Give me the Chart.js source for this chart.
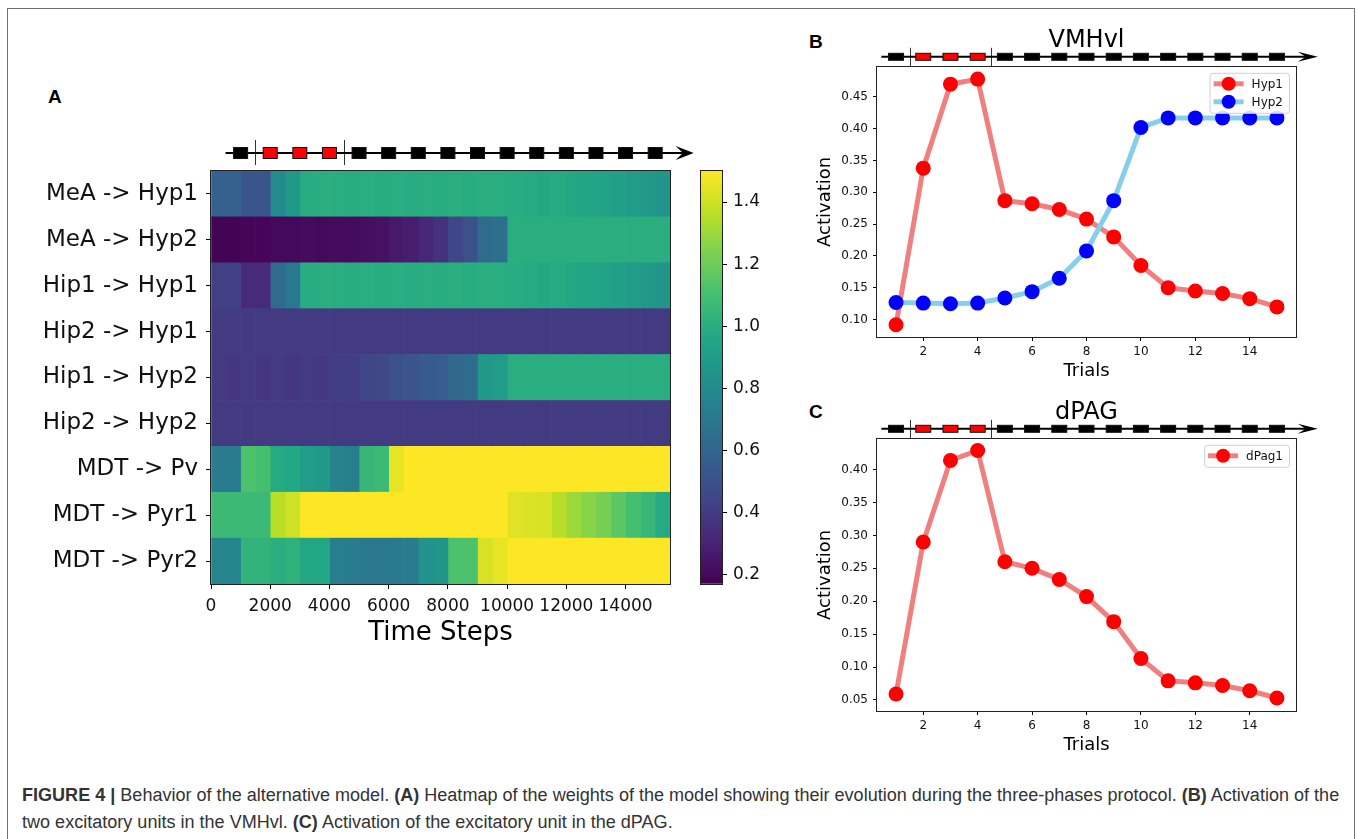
<!DOCTYPE html>
<html>
<head>
<meta charset="utf-8">
<script src="https://cdn.jsdelivr.net/npm/chart.js@4.4.0/dist/chart.umd.min.js"></script>
<style>
  body { margin: 0; background: #fff; width: 1358px; height: 839px; overflow: hidden; position: relative; }
  .frame { position: absolute; left: 7px; top: 8px; width: 1346px; height: 840px; border: 1.5px solid #707070; border-bottom: none; }
  canvas { position: absolute; }
  .panel { position: absolute; font: bold 19px 'Liberation Sans', Arial, sans-serif; line-height: 20px; color: #000; }
  #caption { position: absolute; left: 22px; top: 782px; font-family: 'Liberation Sans', Arial, sans-serif; font-size: 16px; color: #333; line-height: 27px; white-space: nowrap; }
</style>
</head>
<body>
<div class="frame"></div>
<div class="panel" style="left:48px;top:87px">A</div>
<div class="panel" style="left:809px;top:32px">B</div>
<div class="panel" style="left:809px;top:402px">C</div>

<canvas id="heatmap" width="700" height="560" style="left:0;top:100px"></canvas>
<canvas id="colorbar" width="90" height="450" style="left:690px;top:150px"></canvas>
<canvas id="vmh" width="540" height="370" style="left:800px;top:20px"></canvas>
<canvas id="dpag" width="540" height="372" style="left:800px;top:392px"></canvas>

<div id="caption"><span id="line1"><b>FIGURE 4 |</b> Behavior of the alternative model. <b>(A)</b> Heatmap of the weights of the model showing their evolution during the three-phases protocol. <b>(B)</b> Activation of the</span><br>two excitatory units in the VMHvl. <b>(C)</b> Activation of the excitatory unit in the dPAG.</div>

<script>
// --- heatmap (A) ---
var rowNames = ['MeA -> Hyp1', 'MeA -> Hyp2', 'Hip1 -> Hyp1', 'Hip2 -> Hyp1', 'Hip1 -> Hyp2',
                'Hip2 -> Hyp2', 'MDT -> Pv', 'MDT -> Pyr1', 'MDT -> Pyr2'];
var timeBins = [0,500,1000,1500,2000,2500,3000,3500,4000,4500,5000,5500,6000,6500,7000,7500,
                8000,8500,9000,9500,10000,10500,11000,11500,12000,12500,13000,13500,14000,14500,15000];
var timeMax = 15500;
var timeTicks = [0,2000,4000,6000,8000,10000,12000,14000];

var meaHyp1  = [0.58,0.58,0.52,0.52,0.8,0.88,0.99,1.0,1.0,0.99,1.0,0.99,1.0,0.99,1.0,0.99,
                1.0,0.99,1.0,1.0,0.99,0.98,0.97,0.98,0.96,0.95,0.94,0.92,0.9,0.88,0.85];
var meaHyp2  = [0.18,0.18,0.19,0.19,0.2,0.2,0.21,0.2,0.21,0.21,0.22,0.23,0.26,0.28,0.32,0.36,
                0.45,0.5,0.63,0.66,1.0,1.0,1.0,1.0,1.0,1.0,1.0,1.0,1.0,1.0,1.0];
var hip1Hyp1 = [0.42,0.42,0.33,0.33,0.63,0.7,0.99,1.0,1.0,0.99,1.0,0.99,1.0,0.99,1.0,0.99,
                1.0,0.99,1.0,1.0,0.99,0.98,0.97,0.98,0.96,0.95,0.94,0.92,0.9,0.88,0.86];
var hip2Hyp1 = [0.4,0.4,0.4,0.4,0.4,0.4,0.4,0.4,0.4,0.4,0.4,0.4,0.4,0.4,0.4,0.4,
                0.4,0.4,0.4,0.4,0.4,0.4,0.4,0.4,0.4,0.4,0.4,0.4,0.4,0.4,0.4];
var hip1Hyp2 = [0.4,0.38,0.4,0.38,0.4,0.38,0.4,0.39,0.41,0.41,0.45,0.46,0.5,0.52,0.55,0.56,
                0.62,0.64,0.88,0.9,1.0,1.0,1.0,1.0,1.0,1.0,1.0,1.0,1.0,1.0,1.0];
var hip2Hyp2 = [0.4,0.4,0.4,0.4,0.4,0.4,0.4,0.4,0.4,0.4,0.4,0.4,0.4,0.4,0.4,0.4,
                0.4,0.4,0.4,0.4,0.4,0.4,0.4,0.4,0.4,0.4,0.4,0.4,0.4,0.4,0.4];
var mdtPv    = [0.72,0.72,1.12,1.1,0.98,0.97,0.9,0.88,0.76,0.74,1.05,1.07,1.45,1.5,1.5,1.5,
                1.5,1.5,1.5,1.5,1.5,1.5,1.5,1.5,1.5,1.5,1.5,1.5,1.5,1.5,1.5];
var mdtPyr1  = [1.07,1.07,1.07,1.07,1.36,1.4,1.5,1.5,1.5,1.5,1.5,1.5,1.5,1.5,1.5,1.5,
                1.5,1.5,1.5,1.5,1.44,1.43,1.42,1.36,1.3,1.26,1.22,1.16,1.1,1.05,0.98];
var mdtPyr2  = [0.77,0.77,1.03,1.03,1.0,1.02,0.96,0.96,0.74,0.72,0.7,0.7,0.71,0.72,0.84,0.86,
                1.12,1.12,1.42,1.45,1.5,1.5,1.5,1.5,1.5,1.5,1.5,1.5,1.5,1.5,1.5];

var colorMin = 0.17, colorMax = 1.50;
var colorbarTicks = [0.2,0.4,0.6,0.8,1.0,1.2,1.4];

// --- protocol strip (trials, fear phase in red) ---
var trials = [1,2,3,4,5,6,7,8,9,10,11,12,13,14,15];
var trialColors = ['#000','#f00','#f00','#f00','#000','#000','#000','#000',
                   '#000','#000','#000','#000','#000','#000','#000'];
var phaseBounds = [1.5, 4.5];
var stepsPerTrial = 1000;

// --- activation (B, C) ---
var trialTicks = [2,4,6,8,10,12,14];
var hyp1  = [0.092,0.338,0.470,0.478,0.287,0.282,0.273,0.258,0.230,0.185,0.150,0.145,0.141,0.133,0.120];
var hyp2  = [0.127,0.126,0.125,0.126,0.134,0.144,0.165,0.208,0.287,0.402,0.417,0.417,0.417,0.417,0.417];
var dpag1 = [0.059,0.290,0.414,0.429,0.260,0.250,0.233,0.207,0.169,0.113,0.079,0.076,0.072,0.064,0.053];
var activationTicksB = [0.10,0.15,0.20,0.25,0.30,0.35,0.40,0.45];
var activationTicksC = [0.05,0.10,0.15,0.20,0.25,0.30,0.35,0.40];

Chart.defaults.font.family = "'DejaVu Sans'";
Chart.defaults.color = '#111';

var viridisStops = ['#440154','#482475','#414487','#355f8d','#2a788e','#21918c',
                    '#22a884','#44bf70','#7ad151','#bddf26','#fde725'];

function hexRgb(h) {
  return [parseInt(h.substr(1,2),16), parseInt(h.substr(3,2),16), parseInt(h.substr(5,2),16)];
}

function viridis(v) {
  var t = Math.min(1, Math.max(0, (v - colorMin) / (colorMax - colorMin)));
  var p = t * (viridisStops.length - 1);
  var i = Math.min(Math.floor(p), viridisStops.length - 2);
  var f = p - i;
  var a = hexRgb(viridisStops[i]), b = hexRgb(viridisStops[i + 1]);
  return 'rgb(' + [0,1,2].map(function(k) { return Math.round(a[k] + (b[k] - a[k]) * f); }).join(',') + ')';
}

function fixedTicks(arr) {
  return function(s) { s.ticks = arr.map(function(v) { return {value: v}; }); };
}

// trial squares above the axes, placed through the x scale
var protocolPlugin = {
  id: 'protocol',
  afterDraw: function(chart, args, o) {
    if (!o.unit) return;
    var ctx = chart.ctx, xs = chart.scales.x;
    var px = function(t) { return xs.getPixelForValue(t * o.unit); };
    var y = chart.chartArea.top + o.offset;
    ctx.save();
    ctx.strokeStyle = '#333';
    ctx.lineWidth = 1;
    phaseBounds.forEach(function(b) {
      var x = Math.round(px(b)) + 0.5;
      ctx.beginPath(); ctx.moveTo(x, y - o.sepUp); ctx.lineTo(x, y + o.sepDown); ctx.stroke();
    });
    var tip = px(o.end);
    ctx.strokeStyle = '#000';
    ctx.lineWidth = 2;
    ctx.beginPath(); ctx.moveTo(px(o.start), y); ctx.lineTo(tip - o.headLen * 0.6, y); ctx.stroke();
    ctx.fillStyle = '#000';
    ctx.beginPath();
    ctx.moveTo(tip, y);
    ctx.lineTo(tip - o.headLen, y - o.headHalf);
    ctx.lineTo(tip - o.headLen * 0.6, y);
    ctx.lineTo(tip - o.headLen, y + o.headHalf);
    ctx.closePath();
    ctx.fill();
    trials.forEach(function(t, i) {
      var x = px(t);
      ctx.fillStyle = trialColors[i];
      ctx.fillRect(x - o.w / 2, y - o.h / 2, o.w, o.h);
      ctx.lineWidth = 1;
      ctx.strokeStyle = '#111';
      ctx.strokeRect(x - o.w / 2, y - o.h / 2, o.w, o.h);
    });
    ctx.restore();
  }
};

// matplotlib-like spines
var framePlugin = {
  id: 'frame',
  afterDatasetsDraw: function(chart) {
    var a = chart.chartArea, ctx = chart.ctx;
    ctx.save();
    ctx.strokeStyle = '#222';
    ctx.lineWidth = 1;
    ctx.strokeRect(Math.round(a.left) - 0.5, Math.round(a.top) - 0.5,
                   Math.round(a.width) + 1, Math.round(a.height) + 1);
    ctx.restore();
  }
};

// boxed legend inside the top right corner
var boxLegendPlugin = {
  id: 'boxLegend',
  afterDatasetsDraw: function(chart, args, o) {
    if (!o.show) return;
    var ctx = chart.ctx, a = chart.chartArea;
    var sets = chart.data.datasets;
    ctx.save();
    ctx.font = "12px 'DejaVu Sans'";
    var tw = Math.max.apply(null, sets.map(function(d) { return ctx.measureText(d.label).width; }));
    var w = 42 + tw + 6, h = sets.length * 18 + 4;
    var left = a.right - 7 - w, top = a.top + 6;
    ctx.beginPath();
    ctx.roundRect(left + 0.5, top + 0.5, w, h, 3);
    ctx.fillStyle = 'rgba(255,255,255,0.85)';
    ctx.fill();
    ctx.strokeStyle = '#d0d0d0';
    ctx.lineWidth = 1;
    ctx.stroke();
    sets.forEach(function(d, i) {
      var cy = top + 11 + i * 18;
      ctx.strokeStyle = d.borderColor;
      ctx.lineWidth = d.borderWidth;
      ctx.beginPath(); ctx.moveTo(left + 4, cy); ctx.lineTo(left + 34, cy); ctx.stroke();
      ctx.fillStyle = d.pointBackgroundColor;
      ctx.beginPath(); ctx.arc(left + 19, cy, 7, 0, Math.PI * 2); ctx.fill();
      ctx.fillStyle = '#111';
      ctx.textBaseline = 'middle';
      ctx.fillText(d.label, left + 42, cy + 1);
    });
    ctx.restore();
  }
};

// heatmap built from one floating bar per time bin and row
var weightRows = [meaHyp1, meaHyp2, hip1Hyp1, hip2Hyp1, hip1Hyp2, hip2Hyp2, mdtPv, mdtPyr1, mdtPyr2];
var heatDatasets = timeBins.map(function(start, i) {
  var end = i < timeBins.length - 1 ? timeBins[i + 1] : timeMax;
  return {
    data: rowNames.map(function() { return [start, end]; }),
    backgroundColor: weightRows.map(function(r) { return viridis(r[i]); }),
    borderWidth: 0,
    grouped: false,
    barPercentage: 1,
    categoryPercentage: 1
  };
});

new Chart(document.getElementById('heatmap'), {
  type: 'bar',
  data: { labels: rowNames, datasets: heatDatasets },
  options: {
    indexAxis: 'y',
    responsive: false,
    animation: false,
    layout: { padding: { top: 71, right: 30, left: 0, bottom: 0 } },
    plugins: {
      legend: { display: false },
      tooltip: { enabled: false },
      protocol: { unit: stepsPerTrial, offset: -18, start: 0.49, end: 16.3, w: 14, h: 11,
                  headLen: 18, headHalf: 7, sepUp: 13, sepDown: 12 }
    },
    scales: {
      x: {
        type: 'linear', min: 0, max: timeMax,
        afterBuildTicks: fixedTicks(timeTicks),
        afterFit: function(s) { s.height = 76; },
        grid: { drawOnChartArea: false, tickLength: 5, tickColor: '#000' },
        border: { display: false },
        ticks: { font: { size: 17 }, padding: 7, maxRotation: 0, autoSkip: false,
                 callback: function(v) { return String(v); } },
        title: { display: true, text: 'Time Steps', font: { size: 26 }, color: '#000',
                 padding: { top: 0, bottom: 11 } }
      },
      y: {
        afterFit: function(s) { s.width = 211; },
        grid: { drawOnChartArea: false, offset: false, tickLength: 5, tickColor: '#000' },
        border: { display: false },
        ticks: { font: { size: 23 }, padding: 8, autoSkip: false }
      }
    }
  },
  plugins: [protocolPlugin, framePlugin]
});

// colorbar
new Chart(document.getElementById('colorbar'), {
  type: 'bar',
  data: {
    labels: ['weight'],
    datasets: [{
      data: [[colorMin, colorMax]],
      backgroundColor: function(c) {
        var a = c.chart.chartArea;
        if (!a) return '#21918c';
        var g = c.chart.ctx.createLinearGradient(0, a.bottom, 0, a.top);
        viridisStops.forEach(function(s, i) { g.addColorStop(i / (viridisStops.length - 1), s); });
        return g;
      },
      borderWidth: 0,
      barPercentage: 1,
      categoryPercentage: 1
    }]
  },
  options: {
    responsive: false,
    animation: false,
    layout: { padding: { left: 11, top: 21, bottom: 14, right: 0 } },
    plugins: { legend: { display: false }, tooltip: { enabled: false } },
    scales: {
      x: { display: false },
      y: {
        position: 'right', min: colorMin, max: colorMax,
        afterBuildTicks: fixedTicks(colorbarTicks),
        afterFit: function(s) { s.width = 58; },
        grid: { drawOnChartArea: false, tickLength: 5, tickColor: '#000' },
        border: { display: false },
        ticks: { font: { size: 17 }, padding: 6, callback: function(v) { return v.toFixed(1); } }
      }
    }
  },
  plugins: [framePlugin]
});

function series(label, values, lineColor, dotColor, order) {
  return {
    label: label,
    data: values.map(function(v, i) { return { x: trials[i], y: v }; }),
    borderColor: lineColor,
    borderWidth: 5,
    pointRadius: 7.5,
    pointBackgroundColor: dotColor,
    pointBorderColor: dotColor,
    pointBorderWidth: 0,
    tension: 0,
    order: order
  };
}

function activationChart(id, title, datasets, yMin, yMax, yTicks) {
  return new Chart(document.getElementById(id), {
    type: 'line',
    data: { datasets: datasets },
    options: {
      responsive: false,
      animation: false,
      layout: { padding: { top: 0, right: 44, left: 0, bottom: 0 } },
      plugins: {
        legend: { display: false },
        tooltip: { enabled: false },
        title: { display: true, text: title, fullSize: false, color: '#000',
                 font: { size: 24, weight: 'normal' }, padding: { top: 6, bottom: 12 } },
        protocol: { unit: 1, offset: -10, start: 0.46, end: 16.5, w: 15, h: 7,
                    headLen: 20, headHalf: 5, sepUp: 9, sepDown: 10 },
        boxLegend: { show: true }
      },
      scales: {
        x: {
          type: 'linear', min: 0.3, max: 15.7,
          afterBuildTicks: fixedTicks(trialTicks),
          afterFit: function(s) { s.height = 53; },
          grid: { drawOnChartArea: false, tickLength: 4, tickColor: '#000' },
          border: { display: false },
          ticks: { font: { size: 12 }, padding: 4, maxRotation: 0, autoSkip: false },
          title: { display: true, text: 'Trials', font: { size: 18 }, color: '#000',
                   padding: { top: 0, bottom: 8 } }
        },
        y: {
          min: yMin, max: yMax,
          afterBuildTicks: fixedTicks(yTicks),
          afterFit: function(s) { s.width = 77; },
          grid: { drawOnChartArea: false, tickLength: 4, tickColor: '#000' },
          border: { display: false },
          ticks: { font: { size: 12 }, padding: 5, callback: function(v) { return v.toFixed(2); } },
          title: { display: true, text: 'Activation', font: { size: 18 }, color: '#000',
                   padding: { top: 15, bottom: 0 } }
        }
      }
    },
    plugins: [protocolPlugin, framePlugin, boxLegendPlugin]
  });
}

activationChart('vmh', 'VMHvl', [
  series('Hyp1', hyp1, '#f08080', '#ff0000', 1),
  series('Hyp2', hyp2, '#87ceeb', '#0000ff', 0)
], 0.0727, 0.4973, activationTicksB);

activationChart('dpag', 'dPAG', [
  series('dPag1', dpag1, '#f08080', '#ff0000', 0)
], 0.0332, 0.4468, activationTicksC);

// fit caption first line to the figure width
var line1 = document.getElementById('line1');
var cap = document.getElementById('caption');
cap.style.fontSize = (16 * 1318 / line1.getBoundingClientRect().width).toFixed(2) + 'px';
</script>
</body>
</html>
